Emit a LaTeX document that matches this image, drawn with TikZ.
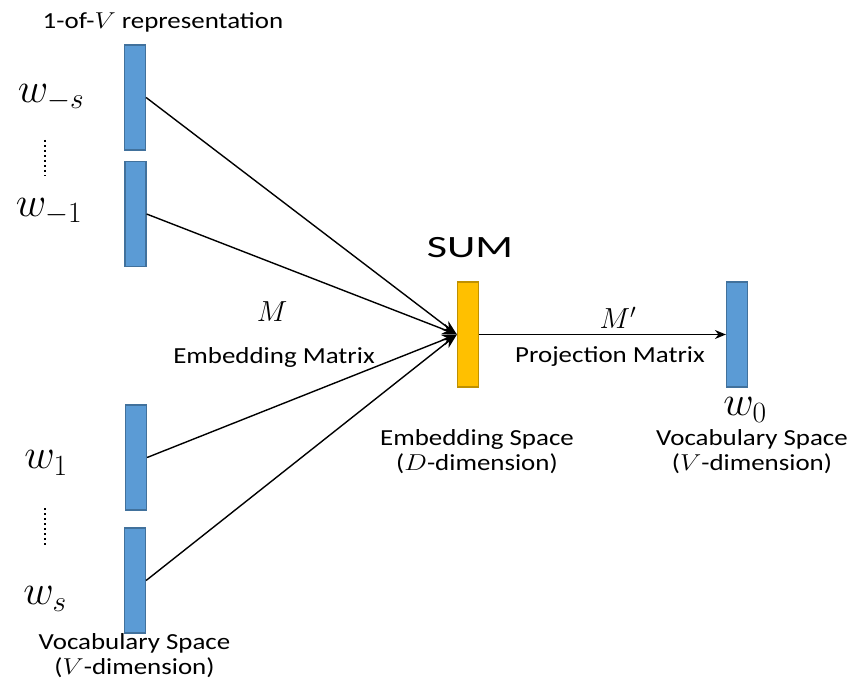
\RequirePackage{fix-cm}
\documentclass[tikz,border=0pt]{standalone}
\usepackage{fontspec}
\setmainfont{Carlito}
\usetikzlibrary{arrows.meta}
\definecolor{barblue}{HTML}{5B9BD5}
\definecolor{barblueedge}{HTML}{41719C}
\definecolor{baryellow}{HTML}{FFC000}
\definecolor{baryellowedge}{HTML}{BF9000}
\tikzset{
  bluebar/.style={draw=barblueedge, fill=barblue, line width=1.2pt, minimum width=21pt, minimum height=105pt, inner sep=0pt},
  yellowbar/.style={draw=baryellowedge, fill=baryellow, line width=1.2pt, minimum width=21pt, minimum height=105pt, inner sep=0pt},
  conn/.style={line width=1.4pt, -{Stealth[length=15pt,width=11pt]}},
  small/.style={font=\fontsize{23}{25}\selectfont, align=center, inner sep=0pt, xscale=1.17, transform shape},
  wlabel/.style={font=\fontsize{42}{44}\selectfont, inner sep=0pt},
  mlabel/.style={font=\fontsize{29}{32}\selectfont, inner sep=0pt},
  vdots/.style={line width=2.8pt, dash pattern=on 2.4pt off 2.6pt}
}
\begin{document}
\begin{tikzpicture}[x=1pt,y=-1pt]
\useasboundingbox (0,0) rectangle (854,682);
% bars
\node[bluebar] (wms) at (135,97.5) {};
\node[bluebar] (wm1) at (135.5,214) {};
\node[bluebar] (wp1) at (136,457.5) {};
\node[bluebar] (wps) at (135,580.5) {};
\node[yellowbar] (sum) at (468,334.5) {};
\node[bluebar] (wo) at (737,334.5) {};
% connectors
\draw[conn] (wms.east) -- (sum.west);
\draw[conn] (wm1.east) -- (sum.west);
\draw[conn] (wp1.east) -- (sum.west);
\draw[conn] (wps.east) -- (sum.west);
\draw[line width=1.4pt, -{Stealth[length=11pt,width=9pt]}] (sum.east) -- (wo.west);
% dots
\coordinate (d1a) at (45,140);
\coordinate (d1b) at (45,176);
\coordinate (d2a) at (45,508);
\coordinate (d2b) at (45,546);
\draw[vdots] (d1a) -- (d1b);
\draw[vdots] (d2a) -- (d2b);
% labels
\node[small] (top) at (163,22) {1-of-$V$ representation};
\node[wlabel] (lms) at (51,98) {$w_{-s}$};
\node[wlabel] (lm1) at (49,212) {$w_{-1}$};
\node[wlabel] (lp1) at (46,463) {$w_{1}$};
\node[wlabel] (lps) at (45,599) {$w_{s}$};
\node[small] (vs1) at (134.5,656) {Vocabulary Space\\($V$-dimension)};
\node[mlabel] (M) at (272,312) {$M$};
\node[small] (em) at (274,357) {Embedding Matrix};
\node[font=\fontsize{31}{34}\selectfont, inner sep=0pt, xscale=1.42, transform shape] (sumt) at (470,248) {SUM};
\node[mlabel] (Mp) at (618,318) {$M'$};
\node[small] (pm) at (610,357) {Projection Matrix};
\node[wlabel] (lo) at (745,410) {$w_{0}$};
\node[small] (es) at (477,452) {Embedding Space\\($D$-dimension)};
\node[small] (vs2) at (752,452) {Vocabulary Space\\($V$-dimension)};
\end{tikzpicture}
\end{document}
